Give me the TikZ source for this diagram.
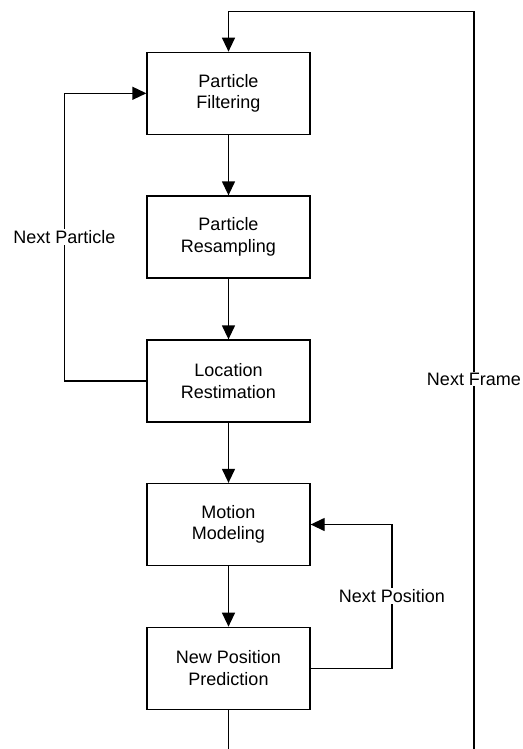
\documentclass[tikz,border=0pt]{standalone}
\usepackage{fontspec}
\setmainfont{Liberation Sans}
\usetikzlibrary{arrows.meta}
\begin{document}
\begin{tikzpicture}[x=1pt,y=-1pt,
  stepbox/.style={draw,line width=1.3pt,minimum width=163pt,minimum height=82pt,align=center,inner sep=0pt,font=\fontsize{18}{21.5}\selectfont},
  conn/.style={line width=1.3pt,-{Triangle[length=14pt,width=13pt]}},
  plain/.style={line width=1.3pt},
  lbl/.style={fill=white,inner sep=1pt,font=\fontsize{18}{21.5}\selectfont}]
\useasboundingbox (0,0) rectangle (522,749);
\node[stepbox] (pf) at (228.5,93.3) {Particle\\Filtering};
\node[stepbox] (pr) at (228.5,237) {Particle\\Resampling};
\node[stepbox] (lr) at (228.5,381) {Location\\Restimation};
\node[stepbox] (mm) at (228.5,524.5) {Motion\\Modeling};
\node[stepbox] (np) at (228.5,668.3) {New Position\\Prediction};
\coordinate (bl) at (228.5,760);
\coordinate (br) at (474,760);
\coordinate (tr) at (474,11.7);
\coordinate (tl) at (228.5,11.7);
\coordinate (pl) at (64.3,381);
\coordinate (pt) at (64.3,93.3);
\coordinate (qr) at (392,668.3);
\coordinate (qt) at (392,524.5);
\draw[conn] (pf) -- (pr);
\draw[conn] (pr) -- (lr);
\draw[conn] (lr) -- (mm);
\draw[conn] (mm) -- (np);
\draw[plain] (np.south) -- (bl);
\draw[conn] (br) -- (tr) -- (tl) -- (pf.north);
\draw[conn] (lr.west) -- (pl) -- (pt) -- (pf.west);
\draw[conn] (np.east) -- (qr) -- (qt) -- (mm.east);
\node[lbl] (l1) at (64.3,237) {Next Particle};
\node[lbl] (l2) at (392,596) {Next Position};
\node[lbl] (l3) at (474,379) {Next Frame};
\end{tikzpicture}
\end{document}
